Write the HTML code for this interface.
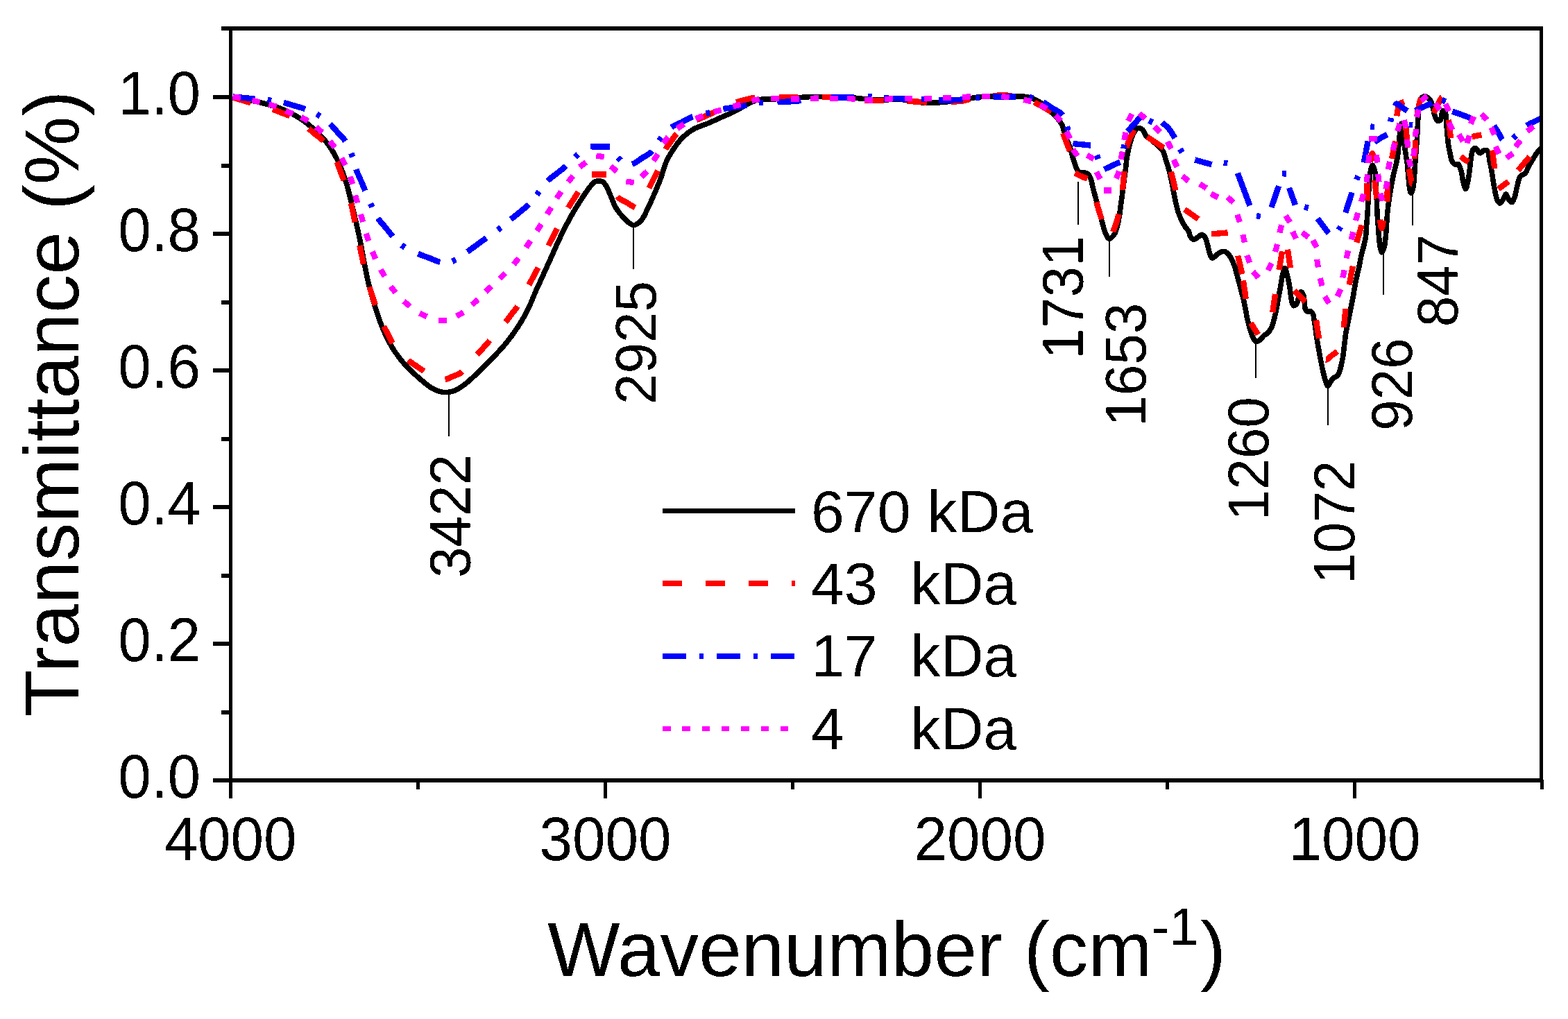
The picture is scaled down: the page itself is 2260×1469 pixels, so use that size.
<!DOCTYPE html>
<html lang="en"><head><meta charset="utf-8"><title>FTIR spectra</title>
<style>
html,body{margin:0;padding:0;background:#fff}
body{width:2260px;height:1469px;overflow:hidden}
svg{display:block}
</style></head><body>
<svg width="2260" height="1469" viewBox="0 0 2260 1469">
<defs><filter id="bw" x="-5%" y="-5%" width="110%" height="110%" color-interpolation-filters="sRGB"><feComponentTransfer><feFuncA type="discrete" tableValues="0 1"/></feComponentTransfer></filter></defs>
<rect width="2260" height="1469" fill="#fff"/>
<g fill="none" stroke-linejoin="round" shape-rendering="crispEdges">
<path d="M335.5,140.0C340.3,140.8 344.3,141.4 350.0,142.5C358.2,144.1 370.4,146.5 380.0,149.0C389.0,151.4 397.8,153.7 406.0,157.0C413.8,160.1 421.4,164.1 428.0,168.0C433.9,171.5 438.3,174.4 444.0,179.0C451.4,185.0 461.2,193.9 468.0,202.0C474.4,209.6 479.2,217.0 484.0,226.0C489.4,236.1 494.3,248.9 498.0,260.0C501.4,270.2 503.4,279.7 506.0,290.0C508.7,301.0 511.6,313.2 514.0,324.0C516.2,333.8 518.1,342.3 520.0,352.0C522.1,362.3 523.9,373.7 526.0,384.0C527.9,393.7 529.7,402.7 532.0,412.0C534.3,421.4 537.0,430.4 540.0,440.0C543.3,450.4 546.7,461.6 551.0,472.0C555.3,482.3 560.3,492.8 566.0,502.0C571.4,510.7 577.5,518.7 584.0,526.0C590.2,533.0 597.6,539.4 604.0,545.0C609.5,549.9 614.9,554.7 620.0,558.0C624.1,560.7 628.1,562.7 632.0,564.0C635.4,565.1 638.5,565.6 642.0,565.6C645.8,565.6 649.9,565.1 654.0,563.6C659.1,561.7 664.6,558.0 670.0,554.0C676.5,549.2 683.4,542.2 690.0,536.0C696.8,529.6 703.4,522.9 710.0,516.0C716.8,508.9 723.9,501.5 730.0,494.0C735.8,486.8 741.0,479.6 746.0,472.0C751.0,464.3 755.7,456.6 760.0,448.0C764.7,438.7 768.4,428.4 773.0,418.0C778.0,406.8 783.5,395.2 789.0,383.0C795.1,369.6 801.8,353.9 808.0,341.0C813.4,329.8 818.5,319.8 824.0,310.0C829.2,300.9 835.1,291.5 840.0,284.0C843.9,278.1 847.7,272.5 851.0,268.5C853.3,265.7 855.2,263.2 857.5,262.0C859.3,261.1 861.2,261.0 863.0,261.0C864.8,261.0 866.8,261.0 868.5,262.0C870.6,263.2 872.3,265.8 874.0,268.5C876.2,272.1 877.9,277.2 880.0,282.0C882.5,287.6 884.6,294.5 888.0,300.0C891.3,305.5 895.6,310.8 900.0,315.0C904.0,318.9 908.8,324.4 913.0,324.6C916.8,324.8 920.9,321.1 924.0,318.0C927.4,314.5 929.3,309.3 932.0,304.0C935.3,297.6 938.7,289.5 942.0,282.0C945.4,274.2 949.0,266.1 952.0,258.0C955.0,250.1 956.8,241.3 960.0,234.0C962.9,227.4 966.1,221.9 970.0,216.0C974.1,209.8 978.8,203.1 984.0,198.0C988.9,193.2 994.1,189.3 1000.0,186.0C1006.1,182.6 1013.4,180.8 1020.0,178.0C1026.7,175.2 1033.3,172.0 1040.0,169.0C1046.7,166.0 1053.8,163.1 1060.0,160.0C1065.7,157.1 1070.6,153.7 1076.0,151.0C1081.3,148.4 1086.1,145.4 1092.0,144.0C1098.6,142.5 1106.4,143.4 1114.0,143.0C1122.3,142.6 1131.0,142.0 1140.0,141.5C1149.6,140.9 1160.0,139.8 1170.0,139.6C1180.0,139.4 1190.0,139.8 1200.0,140.0C1210.0,140.2 1220.0,140.3 1230.0,141.0C1240.0,141.7 1249.3,143.5 1260.0,144.0C1272.4,144.6 1287.7,142.8 1300.0,143.6C1310.7,144.3 1321.0,147.3 1330.0,148.0C1337.3,148.5 1342.7,148.4 1350.0,148.0C1359.0,147.6 1370.0,146.3 1380.0,145.0C1390.0,143.7 1400.0,141.0 1410.0,140.0C1420.0,139.0 1430.4,139.2 1440.0,139.0C1449.0,138.9 1458.7,138.8 1466.0,139.0C1471.4,139.1 1475.5,138.8 1480.0,139.7C1484.6,140.6 1489.1,142.2 1493.3,144.2C1497.5,146.3 1501.3,149.2 1505.0,152.0C1508.7,154.8 1511.8,157.3 1515.4,161.0C1520.2,165.9 1527.6,174.5 1530.4,179.6C1532.1,182.6 1532.1,184.5 1533.1,187.5C1534.4,191.4 1535.9,196.4 1537.5,200.8C1539.1,205.2 1541.3,209.5 1542.8,214.0C1544.3,218.4 1545.1,222.9 1546.4,227.3C1547.7,231.8 1549.1,236.9 1550.8,240.6C1552.1,243.4 1553.2,246.4 1555.2,247.7C1557.1,248.9 1560.1,248.0 1562.3,248.6C1564.5,249.2 1566.9,249.8 1568.5,251.2C1570.2,252.7 1571.0,254.8 1572.0,257.4C1573.4,261.0 1574.2,266.5 1575.4,271.0C1576.5,275.4 1577.7,279.8 1578.9,284.2C1580.1,288.6 1581.3,293.1 1582.5,297.5C1583.7,301.9 1584.8,306.4 1586.0,310.8C1587.2,315.2 1588.4,319.8 1589.6,324.1C1590.7,328.1 1591.8,332.3 1593.1,335.6C1594.2,338.3 1595.4,341.2 1596.6,342.7C1597.3,343.6 1598.0,344.3 1598.8,344.4C1599.7,344.5 1600.8,343.6 1601.9,342.7C1603.6,341.2 1605.9,338.4 1607.3,335.6C1609.0,332.4 1609.8,328.1 1610.8,324.1C1611.9,319.9 1612.8,315.2 1613.5,310.8C1614.2,306.4 1614.6,301.9 1615.2,297.5C1615.8,293.1 1616.4,288.6 1617.0,284.2C1617.6,279.8 1618.2,275.4 1618.8,271.0C1619.4,266.6 1619.9,262.1 1620.5,257.7C1621.1,253.3 1621.7,249.1 1622.3,244.4C1623.0,239.1 1623.4,232.6 1624.2,227.3C1624.9,222.6 1625.9,218.5 1626.9,214.1C1627.9,209.7 1629.0,204.9 1630.4,200.8C1631.7,197.0 1632.9,193.0 1634.9,190.2C1636.6,187.8 1638.9,184.7 1641.1,184.4C1643.1,184.1 1645.6,185.9 1647.3,187.5C1649.3,189.4 1649.6,193.0 1651.7,195.5C1654.1,198.4 1658.3,200.8 1661.4,203.5C1664.5,206.1 1667.7,208.8 1670.3,211.4C1672.6,213.8 1674.9,215.6 1676.5,218.5C1678.4,221.9 1679.2,226.9 1680.5,231.0C1681.8,235.0 1683.1,238.9 1684.2,242.7C1685.2,246.3 1686.0,249.6 1686.9,253.3C1687.9,257.4 1688.7,262.1 1689.6,266.5C1690.5,270.9 1691.3,275.4 1692.2,279.8C1693.1,284.2 1693.9,288.7 1694.9,293.1C1695.9,297.5 1697.0,302.3 1698.4,306.4C1699.7,310.2 1701.2,313.6 1702.8,317.0C1704.4,320.3 1706.2,323.8 1708.1,326.7C1709.8,329.3 1712.2,331.3 1713.5,333.8C1714.7,336.1 1714.5,338.9 1715.7,340.9C1716.9,342.7 1718.7,345.1 1720.5,345.3C1722.4,345.5 1724.7,343.0 1726.7,341.8C1728.6,340.6 1730.3,338.1 1732.0,338.2C1733.6,338.3 1735.3,340.2 1736.5,341.8C1738.0,343.8 1738.7,346.8 1739.6,349.6C1740.6,352.8 1741.3,356.8 1742.2,360.2C1743.1,363.3 1743.8,366.9 1744.9,369.0C1745.7,370.4 1746.4,372.0 1747.5,372.1C1748.7,372.3 1750.4,370.2 1751.9,369.0C1753.6,367.7 1755.3,365.7 1757.3,364.6C1759.2,363.5 1761.5,362.3 1763.5,362.4C1765.3,362.4 1767.2,363.3 1768.8,364.6C1770.8,366.2 1772.5,369.1 1774.1,371.7C1775.8,374.6 1777.2,378.0 1778.5,381.4C1779.9,385.0 1780.9,388.9 1782.0,392.9C1783.2,397.2 1784.4,401.9 1785.6,406.2C1786.7,410.4 1787.7,414.4 1788.8,418.5C1789.9,422.7 1791.0,426.5 1792.1,431.0C1793.4,436.4 1794.6,443.2 1795.7,448.7C1796.6,453.4 1797.3,457.5 1798.3,461.9C1799.3,466.3 1800.6,471.1 1801.9,475.2C1803.0,478.7 1804.1,482.2 1805.4,485.0C1806.5,487.4 1807.6,490.0 1808.9,491.2C1809.7,492.0 1810.6,492.5 1811.6,492.5C1813.1,492.4 1815.3,490.7 1816.9,489.4C1818.6,488.0 1819.6,485.6 1821.3,484.1C1822.9,482.7 1825.0,482.1 1826.6,480.5C1828.5,478.7 1830.5,476.2 1831.9,473.5C1833.5,470.6 1834.5,467.1 1835.5,463.7C1836.5,460.3 1837.3,456.8 1838.1,453.1C1839.0,448.9 1839.9,444.4 1840.8,439.8C1841.7,435.0 1842.6,429.7 1843.5,424.8C1844.4,420.0 1845.3,415.3 1846.1,410.6C1846.9,406.1 1847.4,401.5 1848.4,397.3C1849.3,393.4 1850.7,386.3 1851.9,386.3C1853.1,386.3 1854.4,393.4 1855.5,397.3C1856.7,401.7 1857.7,406.8 1858.5,411.5C1859.3,416.0 1859.7,420.6 1860.3,424.8C1860.9,428.5 1861.1,432.5 1862.0,435.4C1862.7,437.5 1863.5,440.3 1864.7,440.7C1865.7,441.0 1867.2,439.9 1868.2,438.9C1869.5,437.6 1870.2,435.0 1870.9,432.7C1871.7,430.1 1871.7,426.0 1872.7,423.9C1873.4,422.5 1874.4,420.8 1875.3,420.8C1876.3,420.8 1877.6,423.0 1878.4,424.8C1879.5,427.4 1879.7,431.9 1880.2,435.4C1880.7,438.9 1880.4,443.6 1881.5,446.0C1882.2,447.5 1883.0,448.6 1884.2,449.1C1885.6,449.7 1888.1,448.4 1889.5,449.1C1890.9,449.8 1891.9,451.5 1892.6,453.1C1893.5,455.0 1893.4,457.6 1893.9,460.2C1894.5,463.4 1895.1,467.1 1895.7,470.8C1896.3,475.0 1896.7,479.7 1897.4,484.1C1898.0,488.5 1898.9,492.9 1899.6,497.3C1900.4,501.7 1901.1,506.2 1901.9,510.6C1902.7,515.0 1903.7,519.9 1904.5,523.9C1905.2,527.2 1905.6,529.7 1906.4,533.0C1907.3,537.0 1908.4,542.3 1909.7,546.4C1910.9,550.0 1912.2,556.2 1913.7,556.4C1914.9,556.5 1916.3,552.3 1917.7,550.4C1919.0,548.5 1920.0,546.5 1921.7,545.0C1923.5,543.4 1926.8,542.9 1928.4,541.0C1930.1,539.0 1930.5,536.2 1931.5,533.0C1932.9,528.2 1934.5,521.0 1935.5,515.0C1936.5,509.1 1937.0,503.2 1937.7,497.3C1938.4,491.4 1939.0,485.1 1939.9,479.6C1940.7,474.9 1941.7,470.8 1942.6,466.4C1943.5,462.0 1944.3,457.5 1945.2,453.1C1946.1,448.7 1947.0,444.2 1947.9,439.8C1948.8,435.4 1949.7,430.9 1950.5,426.5C1951.3,422.1 1951.9,417.7 1952.7,413.3C1953.5,408.9 1954.3,404.6 1955.3,400.0C1956.3,395.1 1957.7,390.2 1958.8,385.0C1960.0,379.4 1961.0,372.7 1962.3,367.3C1963.4,362.6 1964.8,358.5 1965.8,354.1C1966.8,349.7 1967.8,345.6 1968.5,340.8C1969.3,335.3 1969.4,329.0 1969.8,323.1C1970.3,317.2 1970.8,311.3 1971.2,305.4C1971.6,299.5 1971.7,294.0 1972.0,287.7C1972.4,280.6 1973.0,271.7 1973.5,265.0C1973.9,259.6 1973.8,255.1 1974.7,250.5C1975.5,246.2 1977.1,238.2 1978.4,238.2C1979.7,238.2 1981.5,246.4 1982.3,250.5C1983.0,254.4 1982.8,258.0 1983.0,262.0C1983.2,266.2 1983.4,270.7 1983.6,275.0C1983.8,279.3 1984.1,283.1 1984.3,287.7C1984.5,293.1 1984.6,299.5 1984.9,305.4C1985.2,311.3 1985.8,317.2 1986.2,323.1C1986.6,329.0 1987.0,335.1 1987.5,340.8C1988.0,346.2 1988.3,352.5 1989.3,356.7C1990.0,359.6 1991.0,363.8 1991.9,363.8C1992.9,363.8 1994.2,359.6 1995.0,356.7C1996.2,352.5 1996.7,346.3 1997.3,340.8C1997.9,335.1 1998.2,329.0 1998.6,323.1C1999.0,317.2 1999.3,311.3 1999.9,305.4C2000.5,299.5 2001.2,293.9 2002.1,287.7C2003.1,280.8 2004.5,272.6 2005.7,266.0C2006.7,260.4 2007.7,255.4 2008.8,250.5C2009.8,246.2 2011.0,242.3 2011.9,238.2C2012.8,234.1 2013.7,229.9 2014.3,225.8C2014.9,221.7 2015.2,217.5 2015.6,213.4C2016.0,209.3 2016.4,205.1 2016.8,201.0C2017.2,196.9 2017.6,192.6 2018.1,188.6C2018.6,184.9 2019.3,178.1 2019.9,178.1C2020.5,178.1 2021.3,184.9 2021.8,188.6C2022.3,192.6 2022.5,196.9 2023.0,201.0C2023.5,205.1 2024.3,209.3 2024.9,213.4C2025.5,217.5 2026.1,221.7 2026.7,225.8C2027.3,229.9 2028.1,234.1 2028.6,238.2C2029.1,242.3 2029.2,246.6 2029.5,250.5C2029.8,254.1 2030.2,257.6 2030.5,261.0C2030.8,264.1 2030.9,267.1 2031.5,270.0C2032.0,272.9 2032.9,278.4 2033.8,278.5C2034.6,278.6 2035.8,274.7 2036.5,272.0C2037.6,267.7 2037.9,260.9 2038.4,255.0C2039.0,248.6 2039.2,241.5 2039.7,235.0C2040.1,228.9 2040.6,223.2 2041.1,217.3C2041.5,211.4 2042.0,205.5 2042.4,199.6C2042.8,193.7 2043.0,187.8 2043.3,181.9C2043.6,176.0 2043.8,169.7 2044.2,164.2C2044.6,159.5 2044.8,154.8 2045.5,151.0C2046.1,148.0 2046.4,145.1 2047.7,143.0C2048.8,141.2 2050.4,139.4 2052.1,139.0C2053.7,138.6 2055.8,139.4 2057.4,140.4C2059.4,141.6 2061.4,144.1 2062.7,146.5C2064.1,149.1 2064.5,152.2 2065.4,155.4C2066.4,159.0 2066.9,163.6 2068.1,166.9C2069.1,169.6 2070.0,173.2 2071.6,174.0C2072.8,174.6 2074.9,174.1 2076.0,173.1C2077.5,171.6 2077.5,166.6 2078.2,164.2C2078.7,162.5 2078.8,160.1 2079.6,159.8C2080.4,159.5 2082.3,161.1 2083.1,162.5C2084.4,164.7 2084.0,169.1 2084.4,173.1C2084.9,178.2 2085.3,184.9 2085.8,190.8C2086.3,196.7 2086.7,203.0 2087.5,208.5C2088.2,213.3 2089.3,217.6 2090.2,221.8C2091.0,225.5 2091.5,229.7 2092.8,232.4C2093.8,234.3 2094.9,236.1 2096.4,236.8C2097.9,237.5 2100.3,235.9 2101.7,236.8C2103.4,237.9 2104.3,241.4 2105.2,243.9C2106.1,246.5 2106.6,249.2 2107.2,252.0C2107.8,254.9 2107.8,257.9 2108.6,261.0C2109.5,264.6 2111.2,272.4 2112.4,272.4C2113.7,272.4 2115.1,263.9 2116.0,260.0C2116.8,256.5 2117.1,253.7 2117.6,250.0C2118.2,245.5 2118.8,239.8 2119.4,235.0C2120.0,230.5 2120.3,225.5 2121.2,221.8C2121.9,219.0 2122.4,215.9 2123.8,214.7C2124.7,213.9 2126.2,213.4 2127.3,213.8C2128.7,214.3 2129.7,217.9 2130.9,219.1C2131.8,220.0 2132.5,220.9 2133.5,220.9C2134.8,220.9 2136.4,218.0 2138.0,217.3C2139.4,216.7 2141.2,216.0 2142.4,216.5C2143.6,217.0 2144.3,218.4 2145.0,220.0C2146.1,222.5 2146.1,226.9 2146.8,230.6C2147.6,234.8 2148.6,238.7 2149.5,243.9C2150.8,251.2 2152.3,262.5 2153.8,270.4C2155.1,276.8 2156.0,283.7 2157.8,287.7C2158.9,290.2 2160.3,293.1 2161.8,293.1C2163.4,293.1 2165.7,288.7 2167.2,286.4C2168.6,284.2 2169.3,279.7 2170.5,279.7C2171.8,279.7 2172.9,285.6 2174.5,287.7C2175.9,289.4 2177.8,292.0 2179.2,291.7C2180.8,291.4 2182.0,287.0 2183.2,283.7C2184.9,279.1 2185.7,271.6 2187.2,266.4C2188.4,262.0 2189.0,257.2 2191.2,254.3C2193.0,251.9 2196.5,251.7 2198.5,249.5C2200.7,247.0 2201.7,242.7 2203.5,239.5C2205.2,236.4 2207.0,233.6 2208.8,230.6C2210.6,227.7 2212.2,224.4 2214.1,221.8C2215.8,219.5 2218.1,217.0 2219.4,215.6C2220.1,214.9 2220.5,214.5 2221.0,214.0" stroke="#000" stroke-width="7.6"/>
<g stroke="#f00" stroke-width="8.4"><path d="M335.5,140.5C341.7,142.3 347.3,144.0 354.0,146.0C361.9,148.3 372.6,151.3 380.0,153.5C385.5,155.2 389.9,156.4 394.4,158.0C398.4,159.4 401.9,161.0 405.7,162.5" stroke-dasharray="27.12 32.93" stroke-dashoffset="0.00"/>
<path d="M405.7,162.5C409.5,164.0 413.2,165.1 417.0,167.0C421.3,169.1 425.7,172.2 430.0,175.0C434.4,177.9 438.8,180.8 443.0,184.0C447.2,187.2 451.0,190.7 455.0,194.0" stroke-dasharray="26.59 32.29" stroke-dashoffset="13.30"/>
<path d="M455.0,194.0C459.0,197.3 463.4,200.0 467.0,204.0C470.8,208.3 473.9,213.9 477.0,219.0C480.1,223.9 483.3,229.1 485.6,234.0C487.7,238.4 488.9,242.7 490.6,247.0" stroke-dasharray="29.32 35.61" stroke-dashoffset="14.66"/>
<path d="M490.6,247.0C492.3,251.3 494.0,255.4 495.6,260.0C497.4,265.3 499.2,271.4 501.0,277.0C502.7,282.4 504.7,287.9 506.0,293.0C507.2,297.7 507.9,302.0 508.8,306.5" stroke-dasharray="28.15 34.18" stroke-dashoffset="14.07"/>
<path d="M508.8,306.5C509.7,311.0 510.6,315.2 511.6,320.0C512.7,325.3 513.9,331.3 515.0,337.0C516.1,342.7 517.3,348.7 518.4,354.0C519.4,358.8 520.3,363.0 521.2,367.5" stroke-dasharray="28.11 34.14" stroke-dashoffset="14.06"/>
<path d="M521.2,367.5C522.1,372.0 522.9,376.3 524.0,381.0C525.2,386.1 526.6,391.6 528.0,397.0C529.4,402.5 530.9,408.4 532.4,413.6C533.8,418.3 535.3,422.4 536.7,426.8" stroke-dasharray="27.70 33.64" stroke-dashoffset="13.85"/>
<path d="M536.7,426.8C538.1,431.2 539.4,435.4 541.0,440.0C542.8,445.1 544.9,450.9 547.0,456.0C548.9,460.8 550.9,465.5 553.0,470.0C555.0,474.3 557.3,478.3 559.5,482.5" stroke-dasharray="27.23 33.07" stroke-dashoffset="13.62"/>
<path d="M559.5,482.5C561.7,486.7 563.3,490.8 566.0,495.0C569.0,499.7 573.1,504.8 577.0,509.0C580.8,513.1 585.0,516.8 589.0,520.0C592.5,522.8 596.0,524.8 599.5,527.2" stroke-dasharray="27.53 33.43" stroke-dashoffset="13.76"/>
<path d="M599.5,527.2C603.0,529.6 606.5,532.0 610.0,534.4C613.6,536.9 617.3,539.7 621.0,542.0C624.6,544.2 628.5,547.2 632.0,548.0C634.8,548.6 637.7,547.9 640.0,547.5C641.9,547.2 643.1,546.7 645.0,546.0C647.7,545.0 651.3,543.2 654.5,541.8" stroke-dasharray="28.17 34.21" stroke-dashoffset="14.09"/>
<path d="M654.5,541.8C657.7,540.4 660.9,539.8 664.0,537.6C668.1,534.7 672.0,528.9 676.0,524.5C680.0,520.0 684.3,515.1 688.0,511.0C691.1,507.6 693.7,504.7 696.5,501.5" stroke-dasharray="26.66 32.37" stroke-dashoffset="13.33"/>
<path d="M696.5,501.5C699.3,498.3 701.9,495.5 705.0,492.0C708.7,487.8 713.0,482.7 717.0,478.0C721.0,473.3 725.4,468.4 729.0,464.0C732.1,460.2 734.5,456.7 737.3,453.0" stroke-dasharray="28.64 34.77" stroke-dashoffset="14.32"/>
<path d="M737.3,453.0C740.1,449.3 743.0,446.1 745.6,442.0C748.6,437.3 751.1,431.4 754.0,426.0C756.9,420.6 760.3,414.6 763.0,409.6C765.2,405.5 767.0,402.1 769.0,398.3" stroke-dasharray="28.62 34.75" stroke-dashoffset="14.31"/>
<path d="M769.0,398.3C771.0,394.5 772.9,391.2 775.0,387.0C777.5,381.9 780.3,375.7 783.0,370.0C785.7,364.3 788.5,358.1 791.0,353.0C793.0,348.9 794.9,345.5 796.8,341.8" stroke-dasharray="28.44 34.54" stroke-dashoffset="14.22"/>
<path d="M796.8,341.8C798.7,338.1 800.5,334.7 802.6,330.6C805.2,325.6 808.1,319.4 811.0,314.0C813.8,308.7 816.8,303.2 819.6,298.6C821.9,294.7 824.1,291.6 826.3,288.1" stroke-dasharray="27.69 33.62" stroke-dashoffset="13.85"/>
<path d="M826.3,288.1C828.5,284.6 830.5,281.4 833.0,277.6C836.0,273.1 840.2,267.1 843.0,263.0C845.0,260.1 846.6,257.6 848.0,255.5C849.0,253.9 849.5,252.0 850.5,251.4C851.2,251.0 851.9,251.4 853.0,251.4" stroke-dasharray="27.16 32.98" stroke-dashoffset="13.58"/>
<path d="M853.0,251.4C855.3,251.4 860.0,251.4 863.5,251.4C867.0,251.4 871.7,251.4 874.0,251.4" stroke-dasharray="21.00 25.50" stroke-dashoffset="0.00"/>
<path d="M874.0,251.4C875.1,251.4 875.8,251.0 876.5,251.4C877.6,252.0 878.2,254.1 879.0,256.0C880.2,258.9 880.9,263.4 882.5,267.5C884.4,272.6 886.4,279.9 890.0,284.0C893.3,287.7 898.3,289.0 902.5,291.5" stroke-dasharray="30.79 37.38" stroke-dashoffset="30.79"/>
<path d="M902.5,291.5C906.7,294.0 911.9,297.7 915.0,299.0C916.6,299.7 917.7,300.5 919.0,300.0C921.1,299.2 922.8,294.7 925.0,291.0C928.2,285.5 932.9,276.0 936.0,270.0C938.3,265.5 940.0,262.0 942.0,258.0" stroke-dasharray="30.22 36.70" stroke-dashoffset="15.11"/>
<path d="M942.0,258.0C944.0,254.0 946.1,250.4 948.0,246.0C950.2,240.9 951.9,234.5 954.0,229.0C955.9,223.8 957.6,218.3 960.0,214.0C962.1,210.2 964.7,207.5 967.0,204.2" stroke-dasharray="26.95 32.73" stroke-dashoffset="13.48"/>
<path d="M967.0,204.2C969.3,200.9 971.2,197.6 974.0,194.4C977.1,190.8 980.9,187.1 985.0,184.0C989.5,180.6 994.5,177.8 1000.0,175.0C1006.1,171.8 1013.0,169.1 1020.0,166.0C1027.9,162.5 1037.4,158.4 1045.0,155.0C1051.5,152.1 1057.5,149.0 1063.0,147.0C1067.3,145.4 1071.0,144.5 1075.0,143.5" stroke-dasharray="28.49 34.60" stroke-dashoffset="14.25"/>
<path d="M1075.0,143.5C1079.0,142.5 1082.3,141.5 1087.0,141.0C1093.4,140.3 1103.4,140.6 1110.0,140.5C1114.9,140.4 1118.6,140.5 1123.0,140.5C1127.5,140.5 1132.0,140.5 1136.5,140.5" stroke-dasharray="27.90 33.88" stroke-dashoffset="13.95"/>
<path d="M1136.5,140.5C1141.0,140.5 1145.1,140.6 1150.0,140.5C1156.0,140.4 1163.8,140.1 1170.0,140.0C1175.4,139.9 1180.1,140.0 1185.0,140.0C1189.7,140.0 1194.3,139.9 1199.0,140.0" stroke-dasharray="28.23 34.28" stroke-dashoffset="14.11"/>
<path d="M1199.0,140.0C1203.7,140.1 1208.1,140.2 1213.0,140.5C1218.4,140.8 1224.4,141.3 1230.0,142.0C1235.4,142.7 1240.8,144.0 1246.0,144.5C1250.8,145.0 1255.4,144.9 1260.0,145.0" stroke-dasharray="27.68 33.61" stroke-dashoffset="13.84"/>
<path d="M1260.0,145.0C1264.6,145.1 1268.9,145.0 1273.6,145.0C1278.8,145.0 1284.4,144.8 1290.0,145.0C1295.9,145.2 1302.4,145.7 1308.0,146.0C1312.8,146.2 1317.0,146.3 1321.5,146.5" stroke-dasharray="27.79 33.75" stroke-dashoffset="13.90"/>
<path d="M1321.5,146.5C1326.0,146.8 1330.4,147.3 1335.0,147.5C1339.9,147.8 1344.6,148.1 1350.0,148.0C1356.4,147.9 1364.8,146.8 1371.0,146.5C1376.0,146.2 1380.0,146.6 1384.5,146.0" stroke-dasharray="28.51 34.62" stroke-dashoffset="14.25"/>
<path d="M1384.5,146.0C1389.0,145.4 1393.2,144.0 1398.0,143.0C1403.3,141.9 1409.3,140.8 1415.0,140.0C1420.7,139.2 1426.7,138.4 1432.0,138.0C1436.6,137.6 1440.7,137.5 1445.0,137.5" stroke-dasharray="27.65 33.58" stroke-dashoffset="13.83"/>
<path d="M1445.0,137.5C1449.3,137.5 1453.8,137.7 1458.0,138.0C1462.1,138.2 1466.2,138.6 1470.0,139.0C1473.5,139.4 1476.6,139.3 1480.0,140.5C1484.0,142.0 1488.1,145.7 1492.0,148.0C1495.7,150.2 1499.3,151.8 1503.0,154.0" stroke-dasharray="27.96 33.95" stroke-dashoffset="13.98"/>
<path d="M1503.0,154.0C1507.1,156.4 1511.7,158.7 1515.4,162.0C1519.4,165.6 1523.3,170.3 1526.0,175.0C1528.6,179.5 1530.3,186.9 1531.3,189.7C1531.7,190.8 1531.8,190.9 1532.2,192.0" stroke-dasharray="29.02 35.24" stroke-dashoffset="14.51"/>
<path d="M1532.2,192.0C1533.2,194.6 1535.4,200.7 1537.0,205.0C1538.6,209.2 1540.9,215.1 1541.9,217.6" stroke-dasharray="27.38 33.24" stroke-dashoffset="0.00"/>
<path d="M1541.9,217.6C1542.3,218.7 1542.5,218.8 1542.8,219.9C1543.5,222.4 1544.8,227.7 1545.5,232.0C1546.3,237.0 1545.8,246.1 1547.3,248.3C1547.9,249.2 1548.5,249.0 1549.5,249.5" stroke-dasharray="27.95 33.94" stroke-dashoffset="27.95"/>
<path d="M1549.5,249.5C1551.4,250.5 1555.1,252.6 1558.0,254.0C1561.0,255.4 1565.3,256.9 1567.4,257.7" stroke-dasharray="19.72 23.95" stroke-dashoffset="0.00"/>
<path d="M1567.4,257.7C1568.4,258.1 1569.1,257.9 1569.7,258.6C1570.9,260.1 1570.4,264.3 1571.5,268.0C1573.1,273.7 1578.4,285.4 1579.6,288.9C1580.0,290.1 1580.0,290.2 1580.3,291.3" stroke-dasharray="30.55 37.09" stroke-dashoffset="30.55"/>
<path d="M1580.3,291.3C1581.0,293.9 1582.7,299.8 1584.0,304.0C1585.2,308.1 1587.0,313.6 1587.8,316.1" stroke-dasharray="25.91 31.46" stroke-dashoffset="0.00"/>
<path d="M1587.8,316.1C1588.1,317.2 1588.1,317.4 1588.5,318.5C1589.5,321.0 1592.2,327.2 1594.0,331.0C1595.5,334.3 1596.7,339.5 1598.5,340.0C1599.9,340.4 1602.4,337.7 1603.3,336.5C1603.9,335.8 1603.8,335.3 1604.2,334.2" stroke-dasharray="28.89 35.08" stroke-dashoffset="28.89"/>
<path d="M1604.2,334.2C1605.1,331.6 1607.6,325.4 1609.0,321.0C1610.4,316.8 1611.9,311.1 1612.6,308.6" stroke-dasharray="26.96 32.74" stroke-dashoffset="0.00"/>
<path d="M1612.6,308.6C1612.9,307.5 1613.0,307.3 1613.3,306.2C1613.9,303.5 1614.8,296.8 1615.5,292.0C1616.2,287.0 1617.3,279.5 1617.7,276.6C1617.8,275.4 1617.8,275.3 1617.9,274.1" stroke-dasharray="28.77 34.93" stroke-dashoffset="28.77"/>
<path d="M1617.9,274.1C1618.2,271.3 1618.9,264.6 1619.3,260.0C1619.7,255.6 1620.3,249.7 1620.5,247.1" stroke-dasharray="27.13 32.94" stroke-dashoffset="0.00"/>
<path d="M1620.5,247.1C1620.6,245.9 1620.6,245.8 1620.7,244.6C1621.0,241.8 1621.7,234.9 1622.0,230.0C1622.3,225.2 1622.0,218.3 1622.6,215.6C1622.8,214.4 1623.0,214.3 1623.4,213.2" stroke-dasharray="28.12 34.14" stroke-dashoffset="28.12"/>
<path d="M1623.4,213.2C1624.4,210.5 1626.5,203.4 1628.5,199.0C1630.4,194.9 1633.6,189.8 1634.9,187.5" stroke-dasharray="28.26 34.32" stroke-dashoffset="0.00"/>
<path d="M1634.9,187.5C1635.5,186.5 1635.5,186.1 1636.1,185.3C1637.1,184.0 1639.3,181.0 1641.0,181.0C1643.0,181.0 1645.8,184.6 1647.5,187.0C1649.3,189.5 1650.1,194.3 1651.4,195.9C1652.1,196.7 1652.5,196.7 1653.5,197.3" stroke-dasharray="25.16 30.55" stroke-dashoffset="25.16"/>
<path d="M1653.5,197.3C1655.8,198.9 1661.4,202.6 1665.4,205.2C1669.4,207.9 1675.0,211.6 1677.3,213.2" stroke-dasharray="28.62 34.76" stroke-dashoffset="0.00"/>
<path d="M1677.3,213.2C1678.3,213.9 1678.8,213.7 1679.4,214.6C1680.8,216.7 1681.3,223.3 1682.5,228.0C1683.9,233.4 1686.4,242.0 1687.2,245.1C1687.5,246.2 1687.5,246.4 1687.8,247.5" stroke-dasharray="30.11 36.56" stroke-dashoffset="30.11"/>
<path d="M1687.8,247.5C1688.5,250.2 1690.0,256.5 1691.1,261.0C1692.2,265.5 1693.7,271.8 1694.4,274.5" stroke-dasharray="27.79 33.75" stroke-dashoffset="0.00"/>
<path d="M1694.4,274.5C1694.7,275.6 1694.7,275.8 1695.0,276.9C1695.7,279.4 1697.3,285.1 1699.0,289.0C1700.7,293.0 1703.5,298.5 1705.2,300.5C1706.0,301.3 1706.4,301.2 1707.3,301.9" stroke-dasharray="25.40 30.84" stroke-dashoffset="25.40"/>
<path d="M1707.3,301.9C1709.4,303.3 1713.9,306.5 1717.2,308.8C1720.5,311.1 1725.1,314.4 1727.2,315.9" stroke-dasharray="24.33 29.55" stroke-dashoffset="0.00"/>
<path d="M1727.2,315.9C1728.1,316.6 1728.4,316.5 1729.2,317.3C1731.1,319.2 1734.5,324.5 1737.0,328.0C1739.3,331.3 1741.8,336.7 1743.7,337.6C1744.6,338.0 1745.1,337.5 1746.2,337.4" stroke-dasharray="24.75 30.06" stroke-dashoffset="24.75"/>
<path d="M1746.2,337.4C1748.7,337.2 1754.0,336.7 1757.9,336.4C1761.8,336.1 1767.1,335.6 1769.6,335.4" stroke-dasharray="23.49 28.52" stroke-dashoffset="0.00"/>
<path d="M1769.6,335.4C1770.7,335.3 1771.3,334.7 1772.1,335.2C1773.9,336.3 1775.3,342.6 1777.0,347.0C1779.1,352.6 1782.7,362.8 1783.6,366.2C1784.0,367.3 1783.9,367.5 1784.2,368.6" stroke-dasharray="31.51 38.27" stroke-dashoffset="31.51"/>
<path d="M1784.2,368.6C1784.8,371.3 1786.3,377.5 1787.3,381.9C1788.3,386.3 1789.8,392.5 1790.4,395.1" stroke-dasharray="27.22 33.05" stroke-dashoffset="0.00"/>
<path d="M1790.4,395.1C1790.7,396.2 1790.8,396.6 1791.0,397.5C1791.2,398.8 1791.2,400.7 1791.4,401.9C1791.5,402.9 1791.6,403.2 1791.8,404.4" stroke-dasharray="7.76 9.42" stroke-dashoffset="7.76"/>
<path d="M1791.8,404.4C1792.2,407.1 1793.2,413.3 1793.9,417.7C1794.5,422.1 1795.3,428.3 1795.7,431.0" stroke-dasharray="26.89 32.65" stroke-dashoffset="0.00"/>
<path d="M1795.7,431.0C1795.9,432.2 1795.8,432.3 1796.0,433.5C1796.5,436.4 1798.1,443.9 1799.0,449.0C1799.9,453.9 1800.4,460.8 1801.4,463.4C1801.8,464.5 1802.1,464.6 1802.7,465.5" stroke-dasharray="29.16 35.41" stroke-dashoffset="29.16"/>
<path d="M1802.7,465.5C1803.9,467.4 1806.3,471.2 1808.1,474.0C1809.9,476.8 1812.2,480.4 1813.4,482.3" stroke-dasharray="19.92 24.19" stroke-dashoffset="0.00"/>
<path d="M1813.4,482.3C1814.0,483.2 1814.1,484.4 1814.7,484.4C1816.5,484.3 1820.7,472.4 1824.0,467.0C1827.1,461.9 1832.7,455.7 1833.8,452.9C1834.3,451.8 1834.0,451.6 1834.2,450.4" stroke-dasharray="34.75 42.20" stroke-dashoffset="34.75"/>
<path d="M1834.2,450.4C1834.6,447.7 1835.6,441.6 1836.2,437.2C1836.9,432.8 1837.7,426.6 1838.1,423.9" stroke-dasharray="26.79 32.53" stroke-dashoffset="0.00"/>
<path d="M1838.1,423.9C1838.3,422.7 1838.3,422.6 1838.5,421.4C1838.9,418.5 1840.0,411.1 1840.8,406.0C1841.6,401.1 1842.6,394.2 1843.1,391.4C1843.3,390.2 1843.3,390.0 1843.5,388.9" stroke-dasharray="29.17 35.41" stroke-dashoffset="29.17"/>
<path d="M1843.5,388.9C1844.0,386.2 1845.1,380.1 1845.8,375.7C1846.6,371.3 1847.6,365.1 1848.0,362.4" stroke-dasharray="26.88 32.64" stroke-dashoffset="0.00"/>
<path d="M1848.0,362.4C1848.2,361.3 1848.2,361.0 1848.4,359.9C1848.8,358.0 1849.4,354.6 1850.0,352.0C1850.6,349.5 1851.3,344.5 1852.0,344.5C1852.6,344.5 1853.4,348.8 1854.0,351.0C1854.6,353.1 1855.2,355.6 1855.5,357.2C1855.7,358.2 1855.7,358.5 1855.9,359.7" stroke-dasharray="28.20 34.25" stroke-dashoffset="28.20"/>
<path d="M1855.9,359.7C1856.3,362.4 1857.2,368.6 1857.9,373.0C1858.6,377.4 1859.5,383.6 1859.9,386.3" stroke-dasharray="26.90 32.66" stroke-dashoffset="0.00"/>
<path d="M1859.9,386.3C1860.1,387.5 1860.1,387.6 1860.3,388.8C1860.7,391.8 1861.3,400.0 1862.0,405.0C1862.6,409.4 1862.8,415.0 1863.9,417.2C1864.4,418.2 1864.8,418.2 1865.6,419.0" stroke-dasharray="27.77 33.72" stroke-dashoffset="27.77"/>
<path d="M1865.6,419.0C1867.3,420.7 1870.9,424.5 1873.5,427.2C1876.2,429.9 1879.8,433.7 1881.5,435.4" stroke-dasharray="22.84 27.74" stroke-dashoffset="0.00"/>
<path d="M1881.5,435.4C1882.3,436.2 1882.5,436.3 1883.2,437.2C1884.8,439.1 1887.4,443.5 1889.5,447.0C1891.8,450.8 1895.7,456.5 1896.6,459.0C1897.0,460.1 1896.8,460.3 1897.0,461.5" stroke-dasharray="25.24 30.65" stroke-dashoffset="25.24"/>
<path d="M1897.0,461.5C1897.4,464.2 1898.3,470.4 1899.0,474.8C1899.7,479.2 1900.6,485.4 1901.0,488.1" stroke-dasharray="26.90 32.66" stroke-dashoffset="0.00"/>
<path d="M1901.0,488.1C1901.2,489.3 1901.1,489.4 1901.4,490.6C1901.9,493.4 1903.9,500.6 1905.0,505.0C1905.9,508.8 1906.2,513.0 1907.5,515.5C1908.4,517.1 1909.3,518.9 1910.7,519.0" stroke-dasharray="27.28 33.13" stroke-dashoffset="27.28"/>
<path d="M1910.7,519.0C1912.8,519.2 1916.3,514.9 1919.1,512.8C1921.9,510.7 1925.7,508.0 1927.5,506.6" stroke-dasharray="21.03 25.54" stroke-dashoffset="0.00"/>
<path d="M1927.5,506.6C1928.4,505.9 1928.9,506.0 1929.5,505.1C1931.0,503.0 1931.9,496.7 1933.0,492.0C1934.3,486.6 1936.1,477.8 1936.6,474.6C1936.7,473.4 1936.7,473.3 1936.8,472.1" stroke-dasharray="30.00 36.42" stroke-dashoffset="30.00"/>
<path d="M1936.8,472.1C1937.1,469.4 1937.7,463.1 1938.1,458.6C1938.6,454.1 1939.2,447.8 1939.5,445.1" stroke-dasharray="27.13 32.95" stroke-dashoffset="0.00"/>
<path d="M1939.5,445.1C1939.6,443.9 1939.6,443.8 1939.8,442.6C1940.1,439.8 1941.2,432.9 1942.0,428.0C1942.8,423.0 1943.9,415.9 1944.3,413.1C1944.5,411.9 1944.6,411.8 1944.8,410.6" stroke-dasharray="28.75 34.91" stroke-dashoffset="28.75"/>
<path d="M1944.8,410.6C1945.3,407.9 1946.4,401.5 1947.3,397.0C1948.1,392.5 1949.4,386.4 1949.9,383.7" stroke-dasharray="27.38 33.25" stroke-dashoffset="0.00"/>
<path d="M1949.9,383.7C1950.1,382.6 1950.2,382.4 1950.4,381.2C1950.9,378.5 1951.8,371.8 1952.5,367.0C1953.2,362.1 1953.9,354.8 1954.5,352.0C1954.7,350.8 1954.9,350.7 1955.2,349.6" stroke-dasharray="28.45 34.54" stroke-dashoffset="28.45"/>
<path d="M1955.2,349.6C1956.0,347.1 1957.7,341.2 1959.0,337.0C1960.2,332.8 1962.0,327.0 1962.7,324.4" stroke-dasharray="26.29 31.93" stroke-dashoffset="0.00"/>
<path d="M1962.7,324.4C1963.0,323.3 1963.1,323.1 1963.4,322.0C1964.2,319.1 1965.9,312.0 1967.0,307.0C1968.1,302.0 1969.9,294.9 1970.2,292.0C1970.4,290.8 1970.3,290.7 1970.3,289.5" stroke-dasharray="29.47 35.78" stroke-dashoffset="29.47"/>
<path d="M1970.3,289.5C1970.4,286.8 1970.5,280.4 1970.6,276.0C1970.7,271.8 1970.7,266.2 1970.7,263.7" stroke-dasharray="25.80 31.33" stroke-dashoffset="0.00"/>
<path d="M1970.7,263.7C1970.7,262.6 1970.7,262.3 1970.7,261.2C1970.9,258.8 1971.5,254.0 1972.0,250.0C1972.6,245.4 1973.0,239.9 1974.0,235.0C1975.0,230.2 1976.8,221.0 1978.0,221.0" stroke-dasharray="25.45 30.91" stroke-dashoffset="25.45"/>
<path d="M1978.0,221.0C1979.2,221.0 1980.4,230.5 1981.0,236.0C1981.7,242.4 1980.9,253.6 1981.1,257.2C1981.2,258.5 1981.3,258.5 1981.4,259.7" stroke-dasharray="22.86 27.76" stroke-dashoffset="11.43"/>
<path d="M1981.4,259.7C1981.7,262.4 1982.3,268.6 1982.8,273.0C1983.3,277.5 1984.0,283.7 1984.3,286.4" stroke-dasharray="26.86 32.61" stroke-dashoffset="0.00"/>
<path d="M1984.3,286.4C1984.4,287.6 1984.4,287.7 1984.6,288.9C1984.9,291.7 1985.8,298.2 1986.5,303.0C1987.2,307.9 1988.1,313.4 1989.0,318.0C1989.8,322.0 1990.7,329.0 1991.5,329.0" stroke-dasharray="25.28 30.70" stroke-dashoffset="25.28"/>
<path d="M1991.5,329.0C1992.3,329.0 1993.2,321.8 1994.0,318.0C1994.9,313.9 1995.6,309.2 1996.5,305.0C1997.4,300.9 1998.9,295.6 1999.2,293.1C1999.4,292.0 1999.3,291.8 1999.3,290.6" stroke-dasharray="22.95 27.86" stroke-dashoffset="11.47"/>
<path d="M1999.3,290.6C1999.4,287.9 1999.6,281.5 1999.7,277.0C1999.8,272.6 1999.9,266.6 2000.0,264.0" stroke-dasharray="26.61 32.31" stroke-dashoffset="0.00"/>
<path d="M2000.0,264.0C2000.0,262.8 1999.9,262.7 2000.1,261.5C2000.3,258.7 2001.6,251.9 2002.5,247.0C2003.4,241.9 2004.9,234.3 2005.5,231.3C2005.7,230.2 2005.8,230.0 2006.0,228.9" stroke-dasharray="29.35 35.64" stroke-dashoffset="29.35"/>
<path d="M2006.0,228.9C2006.5,226.3 2007.7,220.4 2008.6,216.2C2009.5,212.0 2010.8,206.1 2011.3,203.5" stroke-dasharray="25.95 31.51" stroke-dashoffset="0.00"/>
<path d="M2011.3,203.5C2011.5,202.4 2011.7,202.2 2011.8,201.1C2012.2,198.1 2012.4,190.3 2012.5,185.0C2012.6,179.8 2012.3,172.4 2012.7,169.4C2012.9,168.3 2013.0,168.2 2013.3,167.0" stroke-dasharray="30.19 36.65" stroke-dashoffset="30.19"/>
<path d="M2013.3,167.0C2014.1,163.8 2014.8,152.6 2017.5,149.5C2019.2,147.6 2022.4,147.6 2024.0,147.0" stroke-dasharray="25.22 30.62" stroke-dashoffset="0.00"/>
<path d="M2024.0,147.0C2025.0,146.6 2025.8,145.7 2026.3,146.1C2027.8,147.2 2025.5,158.9 2025.5,165.0C2025.5,170.8 2025.9,179.0 2026.2,182.1C2026.2,183.3 2026.3,183.4 2026.4,184.6" stroke-dasharray="34.01 41.29" stroke-dashoffset="34.01"/>
<path d="M2026.4,184.6C2026.7,187.4 2027.3,194.0 2027.8,198.7C2028.3,203.4 2028.9,210.0 2029.2,212.8" stroke-dasharray="28.34 34.41" stroke-dashoffset="0.00"/>
<path d="M2029.2,212.8C2029.3,214.0 2029.4,214.1 2029.4,215.3C2029.6,217.9 2029.8,223.7 2030.0,228.0C2030.2,232.3 2030.3,238.3 2030.6,240.9C2030.7,242.1 2030.8,242.3 2031.0,243.4" stroke-dasharray="25.26 30.68" stroke-dashoffset="25.26"/>
<path d="M2031.0,243.4C2031.4,245.8 2032.2,251.3 2033.0,255.0C2033.7,258.5 2034.5,264.8 2035.5,265.0" stroke-dasharray="22.20 26.96" stroke-dashoffset="0.00"/>
<path d="M2035.5,265.0C2036.1,265.1 2037.0,263.5 2037.5,262.0C2038.5,259.0 2038.1,252.1 2038.3,247.0C2038.5,241.8 2038.5,234.3 2038.6,231.3C2038.7,230.1 2038.7,230.0 2038.8,228.8" stroke-dasharray="30.48 37.02" stroke-dashoffset="30.48"/>
<path d="M2038.8,228.8C2039.0,226.2 2039.4,220.3 2039.6,215.9C2039.8,211.4 2040.1,205.0 2040.2,202.3" stroke-dasharray="26.54 32.22" stroke-dashoffset="0.00"/>
<path d="M2040.2,202.3C2040.3,201.1 2040.2,201.0 2040.3,199.8C2040.5,196.8 2041.2,189.2 2041.5,184.0C2041.8,179.1 2041.8,172.3 2042.1,169.5C2042.2,168.3 2042.3,168.2 2042.5,167.0" stroke-dasharray="29.15 35.40" stroke-dashoffset="29.15"/>
<path d="M2042.5,167.0C2043.0,164.2 2044.0,157.4 2045.0,153.0C2045.9,149.1 2046.4,144.4 2048.0,142.0" stroke-dasharray="25.68 31.19" stroke-dashoffset="0.00"/>
<path d="M2048.0,142.0C2049.1,140.4 2050.5,139.0 2052.0,139.0C2053.8,139.0 2056.3,141.7 2058.0,144.0C2060.2,147.0 2061.7,152.2 2063.0,156.0C2064.1,159.2 2064.6,165.2 2065.4,165.2C2065.8,165.3 2066.0,164.0 2066.5,163.0" stroke-dasharray="31.63 38.41" stroke-dashoffset="31.63"/>
<path d="M2066.5,163.0C2067.6,160.7 2070.1,155.7 2072.0,152.0C2074.0,148.1 2076.7,141.4 2078.5,140.0" stroke-dasharray="26.00 31.57" stroke-dashoffset="0.00"/>
<path d="M2078.5,140.0C2079.2,139.4 2079.9,139.2 2080.5,139.5C2081.7,140.2 2082.2,144.9 2083.0,148.0C2083.9,151.6 2084.7,156.2 2085.5,160.0C2086.3,163.5 2087.3,168.0 2087.7,170.2C2087.9,171.3 2087.9,171.5 2088.0,172.7" stroke-dasharray="29.95 36.37" stroke-dashoffset="29.95"/>
<path d="M2088.0,172.7C2088.3,175.4 2089.0,181.6 2089.5,186.0C2090.0,190.4 2090.8,196.5 2091.1,199.2" stroke-dasharray="26.68 32.40" stroke-dashoffset="0.00"/>
<path d="M2091.1,199.2C2091.2,200.4 2091.1,200.6 2091.4,201.7C2092.1,204.1 2095.0,209.3 2097.0,213.0C2099.0,216.7 2101.9,222.0 2103.6,223.9C2104.3,224.8 2104.7,224.8 2105.5,225.5" stroke-dasharray="25.05 30.41" stroke-dashoffset="25.05"/>
<path d="M2105.5,225.5C2106.9,226.6 2109.1,228.7 2111.0,230.0C2112.9,231.3 2115.5,232.6 2117.0,233.5" stroke-dasharray="14.06 17.07" stroke-dashoffset="0.00"/>
<path d="M2117.0,233.5C2117.9,234.0 2118.7,235.0 2119.2,234.8C2120.3,234.1 2118.9,226.5 2119.0,222.0C2119.1,217.0 2120.1,210.5 2120.0,206.0C2119.9,202.8 2118.3,198.9 2119.2,197.7C2119.6,197.1 2120.6,197.4 2121.6,197.2" stroke-dasharray="34.99 42.49" stroke-dashoffset="34.99"/>
<path d="M2121.6,197.2C2123.3,196.8 2126.2,196.2 2128.5,195.7C2130.8,195.2 2133.6,194.7 2135.3,194.3" stroke-dasharray="14.00 17.00" stroke-dashoffset="0.00"/>
<path d="M2135.3,194.3C2136.3,194.1 2136.9,193.5 2137.7,193.8C2139.3,194.3 2141.4,197.0 2143.0,199.0C2144.7,201.3 2146.2,204.4 2147.5,207.0C2148.7,209.4 2150.0,212.2 2150.5,214.0C2150.8,215.0 2150.7,215.3 2150.8,216.5" stroke-dasharray="24.18 29.36" stroke-dashoffset="24.18"/>
<path d="M2150.8,216.5C2151.1,219.2 2151.9,225.5 2152.5,230.0C2153.1,234.4 2153.9,240.4 2154.3,243.0" stroke-dasharray="26.73 32.46" stroke-dashoffset="0.00"/>
<path d="M2154.3,243.0C2154.5,244.1 2154.5,244.3 2154.6,245.5C2155.0,248.0 2155.5,253.6 2156.0,258.0C2156.5,263.0 2156.2,273.3 2157.6,273.9C2158.1,274.1 2158.7,273.1 2159.6,272.4" stroke-dasharray="27.83 33.79" stroke-dashoffset="27.83"/>
<path d="M2159.6,272.4C2161.3,271.2 2164.5,268.8 2166.9,267.0C2169.4,265.2 2172.6,262.9 2174.3,261.7" stroke-dasharray="18.18 22.08" stroke-dashoffset="0.00"/>
<path d="M2174.3,261.7C2175.2,261.1 2175.5,261.0 2176.3,260.2C2177.8,258.9 2180.3,256.2 2182.0,254.0C2183.6,251.9 2185.3,249.1 2186.4,247.6C2187.0,246.8 2187.3,246.6 2188.0,245.7" stroke-dasharray="17.46 21.20" stroke-dashoffset="17.46"/>
<path d="M2188.0,245.7C2189.7,243.7 2193.6,239.0 2196.4,235.7C2199.2,232.4 2203.1,227.8 2204.8,225.8" stroke-dasharray="26.04 31.62" stroke-dashoffset="0.00"/>
<path d="M2204.8,225.8C2205.5,224.9 2205.7,224.7 2206.4,223.9C2207.9,222.2 2210.7,218.7 2213.0,216.0C2215.5,213.1 2218.3,210.0 2221.0,207.0" stroke-dasharray="28.00 34.00" stroke-dashoffset="28.00"/></g>
<g stroke="#00f" stroke-width="8.4"><path d="M335.5,139.5C341.0,140.0 346.4,140.4 352.0,141.0C357.9,141.6 364.0,142.4 370.0,143.0C376.1,143.6 382.1,143.7 388.4,144.5C395.1,145.3 402.7,146.5 409.0,148.0C414.5,149.3 419.2,151.0 424.3,152.5" stroke-dasharray="32.21 41.68" stroke-dashoffset="0.00"/>
<path d="M424.3,152.5C429.4,154.0 434.3,155.0 439.6,157.0C445.8,159.3 452.9,162.3 459.0,166.0C465.1,169.7 471.1,174.5 476.0,179.0C480.2,182.9 483.2,187.0 486.8,191.0" stroke-dasharray="32.67 42.28" stroke-dashoffset="16.34"/>
<path d="M486.8,191.0C490.4,195.0 494.4,198.2 497.6,203.0C501.4,208.7 504.5,216.6 507.2,223.6C509.9,230.6 511.3,238.6 513.6,245.0C515.5,250.4 517.7,254.7 519.8,259.5" stroke-dasharray="33.59 43.47" stroke-dashoffset="16.80"/>
<path d="M519.8,259.5C521.9,264.3 523.7,268.7 526.0,274.0C528.8,280.6 531.9,289.0 535.2,296.0C538.3,302.6 541.4,309.5 545.0,315.0C548.2,319.8 551.9,323.3 555.3,327.5" stroke-dasharray="33.66 43.56" stroke-dashoffset="16.83"/>
<path d="M555.3,327.5C558.7,331.7 561.7,335.8 565.6,340.0C570.1,344.9 575.3,350.8 581.2,355.0C587.4,359.4 595.4,362.7 602.0,365.6C607.7,368.1 613.0,369.7 618.5,371.8" stroke-dasharray="34.39 44.51" stroke-dashoffset="17.20"/>
<path d="M618.5,371.8C624.0,373.9 630.1,377.0 635.0,378.0C638.7,378.8 641.8,378.9 645.0,378.5C648.2,378.1 650.8,377.3 654.4,375.6C659.8,373.0 667.8,367.0 673.6,363.0C678.6,359.5 682.7,356.3 687.3,353.0" stroke-dasharray="33.80 43.74" stroke-dashoffset="16.90"/>
<path d="M687.3,353.0C691.9,349.7 696.1,346.5 701.0,343.0C706.8,338.9 713.8,334.4 719.8,329.8C725.6,325.4 731.3,320.3 736.5,316.0C741.1,312.2 745.2,309.1 749.5,305.5" stroke-dasharray="34.14 44.18" stroke-dashoffset="17.07"/>
<path d="M749.5,305.5C753.9,301.9 758.4,298.7 762.5,294.5C767.0,289.8 771.1,283.9 775.4,278.4C779.9,272.7 784.2,265.8 789.0,261.0C793.2,256.8 797.7,254.0 802.0,250.5" stroke-dasharray="33.35 43.16" stroke-dashoffset="16.68"/>
<path d="M802.0,250.5C806.3,247.0 810.5,244.0 815.0,240.0C820.2,235.4 826.0,228.6 831.0,224.4C834.9,221.1 838.8,218.9 842.0,216.5C844.5,214.6 846.8,211.9 848.5,211.3C849.5,210.9 849.8,211.3 851.0,211.3" stroke-dasharray="35.40 45.81" stroke-dashoffset="17.70"/>
<path d="M851.0,211.3C853.7,211.3 860.2,211.4 864.8,211.4C869.4,211.5 875.9,211.6 878.6,211.6" stroke-dasharray="27.60 35.72" stroke-dashoffset="0.00"/>
<path d="M878.6,211.6C879.8,211.6 880.2,211.2 881.1,211.6C882.8,212.6 884.6,217.2 886.5,220.0C888.5,223.0 890.4,226.3 892.6,229.0C894.6,231.4 896.7,234.0 899.0,235.5C900.9,236.8 902.8,237.8 905.0,238.0C907.4,238.2 910.1,237.3 913.0,236.0C916.9,234.3 921.7,230.3 926.0,227.5" stroke-dasharray="35.15 45.49" stroke-dashoffset="35.15"/>
<path d="M926.0,227.5C930.3,224.7 935.0,222.9 939.0,219.0C943.8,214.3 946.9,206.2 951.6,200.4C956.3,194.6 961.4,188.2 967.0,184.0C972.0,180.3 977.7,178.7 983.0,176.0" stroke-dasharray="34.25 44.32" stroke-dashoffset="17.13"/>
<path d="M983.0,176.0C988.3,173.3 993.1,170.1 999.0,168.0C1005.5,165.6 1013.4,164.8 1020.6,163.0C1028.0,161.1 1036.1,158.4 1043.0,157.0C1048.9,155.8 1054.0,155.3 1059.5,154.5" stroke-dasharray="34.86 45.12" stroke-dashoffset="17.43"/>
<path d="M1059.5,154.5C1065.0,153.7 1070.2,153.0 1076.0,152.0C1082.6,150.9 1089.7,148.8 1097.0,148.0C1104.7,147.1 1113.7,147.3 1121.0,147.0C1127.0,146.8 1132.0,146.8 1137.5,146.5" stroke-dasharray="34.27 44.34" stroke-dashoffset="17.13"/>
<path d="M1137.5,146.5C1143.0,146.2 1148.2,145.8 1154.0,145.0C1160.6,144.1 1167.8,141.8 1175.0,141.0C1182.5,140.2 1190.9,140.6 1198.0,140.5C1204.1,140.4 1209.3,140.5 1215.0,140.5" stroke-dasharray="33.99 43.99" stroke-dashoffset="17.00"/>
<path d="M1215.0,140.5C1220.7,140.5 1226.0,140.6 1232.0,140.5C1238.8,140.3 1246.3,139.3 1253.6,139.5C1261.0,139.7 1269.4,141.1 1276.0,141.5C1281.2,141.8 1285.3,141.8 1290.0,142.0" stroke-dasharray="32.75 42.38" stroke-dashoffset="16.38"/>
<path d="M1290.0,142.0C1294.7,142.2 1298.6,142.4 1304.0,142.5C1311.5,142.7 1322.4,142.6 1331.0,143.0C1339.0,143.3 1347.0,144.3 1354.0,144.5C1360.0,144.7 1365.0,144.7 1370.5,144.5" stroke-dasharray="35.12 45.45" stroke-dashoffset="17.56"/>
<path d="M1370.5,144.5C1376.0,144.3 1381.1,144.0 1387.0,143.5C1393.8,142.9 1401.6,141.7 1409.0,141.0C1416.6,140.3 1425.0,139.7 1432.0,139.5C1438.0,139.3 1443.0,139.5 1448.5,139.5" stroke-dasharray="34.10 44.13" stroke-dashoffset="17.05"/>
<path d="M1448.5,139.5C1454.0,139.5 1459.2,139.3 1465.0,139.5C1471.6,139.7 1479.6,139.1 1486.2,140.6C1492.5,142.0 1498.5,145.0 1503.9,147.7C1508.8,150.2 1512.8,153.3 1517.2,156.1" stroke-dasharray="31.66 40.97" stroke-dashoffset="15.83"/>
<path d="M1517.2,156.1C1521.6,158.9 1527.3,161.3 1530.4,164.5C1532.9,167.1 1534.1,169.8 1535.5,173.0C1537.0,176.6 1537.6,181.2 1538.8,185.3C1540.1,189.5 1542.2,194.1 1543.0,198.0C1543.7,201.1 1542.8,205.6 1543.9,206.7C1544.5,207.3 1545.2,206.9 1546.4,207.0" stroke-dasharray="35.26 45.63" stroke-dashoffset="17.63"/>
<path d="M1546.4,207.0C1549.0,207.3 1554.9,207.9 1559.2,208.3C1563.5,208.7 1569.4,209.3 1572.0,209.6" stroke-dasharray="25.73 33.30" stroke-dashoffset="0.00"/>
<path d="M1572.0,209.6C1573.2,209.7 1573.7,209.3 1574.5,209.9C1575.7,210.7 1576.4,213.7 1577.5,216.0C1578.9,219.0 1580.3,222.8 1581.8,226.5C1583.4,230.5 1585.7,235.5 1587.0,239.0C1587.9,241.4 1588.2,244.8 1589.2,245.3C1589.9,245.5 1590.5,244.7 1591.5,244.2" stroke-dasharray="33.74 43.67" stroke-dashoffset="33.74"/>
<path d="M1591.5,244.2C1593.9,243.1 1599.2,240.6 1603.0,238.8C1606.8,237.0 1612.1,234.6 1614.5,233.5" stroke-dasharray="25.37 32.83" stroke-dashoffset="0.00"/>
<path d="M1614.5,233.5C1615.5,233.0 1616.2,233.2 1616.8,232.5C1617.8,231.0 1617.3,227.1 1617.7,224.0C1618.2,220.2 1619.1,215.6 1619.8,211.4C1620.5,207.2 1621.3,202.7 1622.0,199.0C1622.5,196.1 1622.6,192.8 1623.4,191.1C1623.9,190.2 1624.3,190.2 1625.1,189.3" stroke-dasharray="36.33 47.01" stroke-dashoffset="36.33"/>
<path d="M1625.1,189.3C1627.0,187.3 1631.3,182.5 1634.4,179.1C1637.5,175.7 1641.8,170.9 1643.7,168.9" stroke-dasharray="27.61 35.73" stroke-dashoffset="0.00"/>
<path d="M1643.7,168.9C1644.5,168.0 1644.6,167.5 1645.4,167.1C1646.3,166.6 1647.6,166.1 1649.0,166.5C1651.6,167.3 1655.3,173.6 1658.8,175.1C1661.7,176.4 1665.4,176.2 1668.0,176.0C1670.0,175.9 1672.0,174.4 1673.2,174.8C1674.0,175.0 1674.2,175.7 1675.0,176.5" stroke-dasharray="28.33 36.67" stroke-dashoffset="28.33"/>
<path d="M1675.0,176.5C1677.0,178.4 1682.0,182.4 1685.0,186.0C1688.2,189.8 1691.9,196.5 1693.5,199.0" stroke-dasharray="29.35 37.98" stroke-dashoffset="0.00"/>
<path d="M1693.5,199.0C1694.2,200.0 1694.3,200.0 1694.9,201.1C1696.4,203.9 1699.5,213.0 1702.4,217.3C1704.7,220.7 1707.1,223.4 1710.0,225.5C1712.9,227.6 1717.7,229.0 1719.9,229.8C1720.9,230.2 1721.2,230.2 1722.3,230.5" stroke-dasharray="34.75 44.97" stroke-dashoffset="34.75"/>
<path d="M1722.3,230.5C1724.8,231.2 1730.4,232.8 1734.5,233.9C1738.5,235.0 1744.1,236.5 1746.6,237.2" stroke-dasharray="25.21 32.62" stroke-dashoffset="0.00"/>
<path d="M1746.6,237.2C1747.7,237.5 1748.0,237.8 1749.0,237.9C1750.9,238.0 1754.2,237.4 1757.0,237.0C1760.0,236.5 1763.4,234.7 1766.5,235.0C1769.7,235.3 1773.3,237.0 1776.0,239.0C1778.8,241.1 1781.8,245.3 1782.9,247.3C1783.5,248.2 1783.4,248.5 1783.8,249.6" stroke-dasharray="34.06 44.08" stroke-dashoffset="34.06"/>
<path d="M1783.8,249.6C1784.9,252.5 1787.7,259.9 1789.6,265.0C1791.6,270.2 1793.5,275.4 1795.5,280.6" stroke-dasharray="66.27 85.76" stroke-dashoffset="0.00"/>
<path d="M1795.5,280.6C1797.5,285.9 1800.4,293.6 1801.5,296.5" stroke-dasharray="33.99 43.99" stroke-dashoffset="16.99"/>
<path d="M1801.5,296.5C1801.9,297.6 1801.9,297.9 1802.4,298.8C1803.3,300.7 1805.0,304.4 1807.0,306.5C1808.9,308.6 1811.4,311.1 1813.9,311.5C1816.4,311.9 1819.3,310.4 1822.0,309.0C1825.2,307.3 1830.3,303.5 1831.7,301.5C1832.3,300.6 1832.1,300.2 1832.5,299.1" stroke-dasharray="33.71 43.62" stroke-dashoffset="33.71"/>
<path d="M1832.5,299.1C1833.5,296.2 1836.0,288.8 1837.8,283.6C1839.6,278.4 1842.1,271.0 1843.1,268.1" stroke-dasharray="32.76 42.40" stroke-dashoffset="0.00"/>
<path d="M1843.1,268.1C1843.5,267.0 1843.5,266.8 1843.9,265.7C1844.7,263.6 1846.2,258.7 1847.5,256.0C1848.6,253.8 1849.9,250.3 1851.0,250.4C1852.2,250.5 1853.5,255.2 1854.5,258.0C1855.6,261.2 1856.6,266.2 1857.3,268.4C1857.6,269.5 1857.7,269.7 1858.1,270.8" stroke-dasharray="32.07 41.50" stroke-dashoffset="32.07"/>
<path d="M1858.1,270.8C1859.0,273.3 1861.0,279.1 1862.5,283.2C1864.0,287.3 1866.1,293.1 1867.0,295.6" stroke-dasharray="26.35 34.10" stroke-dashoffset="0.00"/>
<path d="M1867.0,295.6C1867.4,296.7 1867.2,297.3 1867.9,298.0C1868.9,298.9 1871.7,299.3 1874.0,299.5C1876.7,299.8 1880.1,298.3 1882.9,299.1C1885.8,300.0 1888.6,302.7 1891.0,305.0C1893.5,307.3 1896.1,311.3 1897.5,313.1C1898.2,314.0 1898.3,314.2 1899.0,315.1" stroke-dasharray="31.63 40.94" stroke-dashoffset="31.63"/>
<path d="M1899.0,315.1C1900.6,317.3 1904.3,322.2 1907.0,325.8C1909.7,329.3 1913.4,334.3 1915.0,336.4" stroke-dasharray="26.64 34.48" stroke-dashoffset="0.00"/>
<path d="M1915.0,336.4C1915.7,337.3 1915.8,337.9 1916.5,338.4C1917.5,339.1 1919.4,340.0 1921.0,339.5C1923.9,338.7 1928.4,332.9 1930.9,329.3C1933.1,326.1 1934.2,322.4 1935.5,319.0C1936.7,315.7 1937.9,311.3 1938.5,309.1C1938.9,308.0 1938.9,307.8 1939.3,306.7" stroke-dasharray="35.44 45.86" stroke-dashoffset="35.44"/>
<path d="M1939.3,306.7C1940.2,303.9 1942.4,297.0 1944.0,292.1C1945.5,287.2 1947.7,280.3 1948.6,277.5" stroke-dasharray="30.65 39.66" stroke-dashoffset="0.00"/>
<path d="M1948.6,277.5C1949.0,276.4 1949.0,276.2 1949.4,275.1C1950.0,273.1 1951.3,269.1 1952.5,266.0C1953.7,262.8 1955.0,259.7 1956.4,256.4C1957.8,253.0 1959.5,249.3 1961.0,246.0C1962.4,242.8 1964.5,239.0 1965.2,236.9C1965.6,235.8 1965.5,235.6 1965.7,234.4" stroke-dasharray="35.90 46.46" stroke-dashoffset="35.90"/>
<path d="M1965.7,234.4C1966.3,231.5 1967.7,224.1 1968.7,219.0C1969.7,213.8 1971.0,206.4 1971.6,203.5" stroke-dasharray="31.46 40.71" stroke-dashoffset="0.00"/>
<path d="M1971.6,203.5C1971.8,202.3 1971.8,202.1 1972.1,201.0C1972.5,198.8 1973.4,193.7 1974.5,190.5C1975.5,187.6 1977.2,182.6 1978.1,182.7C1979.1,182.8 1979.6,189.3 1979.8,193.0C1980.0,197.2 1977.9,205.8 1978.9,206.4C1979.4,206.6 1980.1,205.6 1981.0,205.0" stroke-dasharray="37.67 48.75" stroke-dashoffset="37.67"/>
<path d="M1981.0,205.0C1982.9,203.7 1986.9,200.8 1990.0,199.0C1993.1,197.2 1997.4,195.2 1999.5,194.2" stroke-dasharray="21.47 27.78" stroke-dashoffset="0.00"/>
<path d="M1999.5,194.2C2000.5,193.7 2001.2,193.9 2001.7,193.1C2002.7,191.6 2002.1,187.6 2002.5,184.5C2003.0,180.9 2003.9,176.7 2004.7,172.8C2005.5,168.9 2006.7,164.3 2007.5,161.0C2008.1,158.7 2008.4,156.5 2009.0,155.0C2009.5,154.1 2010.0,153.8 2010.5,153.0" stroke-dasharray="33.95 43.94" stroke-dashoffset="33.95"/>
<path d="M2010.5,153.0C2011.2,152.0 2011.8,149.7 2013.0,149.5C2014.7,149.2 2018.0,152.8 2020.5,154.5C2023.1,156.3 2026.7,158.8 2028.5,160.0" stroke-dasharray="23.28 30.13" stroke-dashoffset="0.00"/>
<path d="M2028.5,160.0C2029.4,160.6 2030.1,160.6 2030.6,161.4C2031.4,162.9 2031.1,166.3 2031.5,169.0C2032.0,172.3 2032.7,179.8 2033.5,179.8C2034.2,179.8 2035.4,174.1 2036.0,171.0C2036.7,167.8 2036.3,162.5 2037.4,160.9C2038.0,160.1 2038.6,160.3 2039.7,159.8" stroke-dasharray="33.53 43.39" stroke-dashoffset="33.53"/>
<path d="M2039.7,159.8C2042.1,158.6 2047.8,155.9 2051.9,154.0C2056.0,152.1 2061.7,149.4 2064.1,148.3" stroke-dasharray="26.97 34.91" stroke-dashoffset="0.00"/>
<path d="M2064.1,148.3C2065.2,147.8 2065.4,147.6 2066.4,147.2C2068.0,146.6 2070.7,145.4 2073.0,145.0C2075.5,144.6 2078.6,144.2 2080.9,145.2C2083.5,146.3 2085.8,149.5 2087.5,152.0C2089.1,154.4 2089.6,158.6 2090.9,159.9C2091.7,160.5 2092.2,160.3 2093.3,160.7" stroke-dasharray="29.59 38.30" stroke-dashoffset="29.59"/>
<path d="M2093.3,160.7C2096.0,161.6 2102.4,163.8 2107.0,165.5C2111.7,167.2 2118.3,169.9 2121.0,171.0" stroke-dasharray="29.56 38.25" stroke-dashoffset="0.00"/>
<path d="M2121.0,171.0C2122.1,171.4 2122.3,171.8 2123.3,171.9C2125.0,172.0 2127.6,171.0 2130.0,170.5C2132.8,169.9 2136.2,168.0 2139.0,168.5C2141.7,169.0 2144.3,171.6 2146.5,173.5C2148.5,175.2 2150.5,177.8 2151.6,179.2C2152.3,180.1 2152.4,180.4 2153.0,181.3" stroke-dasharray="29.34 37.97" stroke-dashoffset="29.34"/>
<path d="M2153.0,181.3C2154.4,183.3 2157.4,187.7 2159.5,191.0C2161.6,194.4 2163.4,199.0 2165.4,201.4" stroke-dasharray="23.65 30.61" stroke-dashoffset="0.00"/>
<path d="M2165.4,201.4C2166.7,203.0 2168.1,204.1 2169.5,204.8C2170.8,205.4 2172.2,206.1 2173.5,205.8C2175.1,205.4 2176.5,203.3 2178.0,202.0C2179.7,200.6 2181.2,199.1 2183.1,197.4C2185.7,195.1 2189.1,192.2 2192.0,189.5C2194.9,186.8 2197.2,183.4 2200.4,181.1" stroke-dasharray="35.69 46.19" stroke-dashoffset="35.69"/>
<path d="M2200.4,181.1C2203.6,178.8 2207.5,177.3 2211.0,175.5C2214.4,173.8 2217.7,172.2 2221.0,170.5" stroke-dasharray="34.00 44.00" stroke-dashoffset="0.00"/></g>
<path d="M385.5,144.1L391.3,144.9M456.5,164.5L461.5,167.5M506.2,220.9L508.2,226.3M534.0,293.4L536.4,298.6M578.8,353.3L583.6,356.7M651.8,376.8L657.0,374.4M717.5,331.6L722.1,328.0M773.6,280.7L777.2,276.1M828.8,226.3L833.2,222.5M890.8,226.8L894.4,231.2M949.8,202.7L953.4,198.1M1017.8,163.7L1023.4,162.3M1094.1,148.3L1099.9,147.7M1172.1,141.3L1177.9,140.7M1250.7,139.4L1256.5,139.6M1328.1,142.9L1333.9,143.1M1406.1,141.3L1411.9,140.7M1483.4,140.0L1489.0,141.2M1538.0,182.5L1539.6,188.1M1580.7,223.8L1582.9,229.2M1619.3,214.3L1620.3,208.5M1656.1,173.9L1661.5,176.3M1700.8,214.9L1704.0,219.7M1763.6,234.7L1769.4,235.3M1811.0,311.0L1816.8,312.0M1848.1,250.2L1853.9,250.6M1880.1,298.3L1885.7,299.9M1929.3,331.7L1932.5,326.9M1955.3,259.1L1957.5,253.7M1975.2,182.3L1981.0,183.1M2004.1,175.6L2005.3,170.0M2030.6,179.7L2036.4,179.9M2078.2,144.0L2083.6,146.4M2136.1,168.0L2141.9,169.0M2180.9,199.3L2185.3,195.5" stroke="#00f" stroke-width="8.4"/>
<path d="M335.5,139.6L346.9,141.0M363.4,144.7L374.6,147.3M387.5,150.2L398.5,153.8M411.7,159.7L422.3,164.3M434.0,168.7L444.0,174.5M455.7,183.1L464.3,190.9M475.5,203.4L482.5,212.6M492.3,227.9L497.7,238.1M504.5,254.6L508.3,265.4M512.1,281.5L515.1,292.5M520.0,308.9L523.2,319.9M527.8,336.5L531.4,347.5M536.7,362.7L541.3,373.3M548.8,388.5L554.4,398.5M563.1,412.9L570.1,421.9M582.0,434.3L590.8,441.7M604.8,451.6L615.2,456.4M632.3,462.2L643.7,461.8M658.0,455.8L668.0,450.2M680.3,439.4L688.9,431.8M699.8,420.7L708.2,412.7M720.2,401.9L728.4,393.7M740.4,381.2L747.6,372.2M758.2,356.8L764.6,347.2M773.9,332.9L780.1,323.1M788.6,308.9L794.6,299.1M802.4,285.8L808.8,276.2M818.8,262.5L826.0,253.5M835.4,240.9L844.6,233.9M859.3,224.6L870.7,226.2M880.2,239.6L889.0,247.2M902.3,261.9L913.7,262.9M924.3,254.9L932.9,247.1M941.9,231.9L948.1,222.1M955.8,206.5L963.0,197.5M976.2,185.2L985.8,178.8M1002.7,171.2L1013.3,166.8M1028.5,161.7L1039.5,158.3M1056.5,153.6L1067.5,150.4M1083.3,145.0L1094.7,143.0M1111.3,142.2L1122.7,141.8M1140.3,142.5L1151.7,142.5M1168.3,141.7L1179.7,141.5M1196.3,141.9L1207.7,142.1M1221.3,142.1L1232.7,142.7M1246.3,144.3L1257.7,144.5M1275.3,142.8L1286.7,142.4M1303.7,142.1L1315.1,141.9M1331.7,142.1L1343.1,141.9M1359.3,141.2L1370.7,140.8M1387.3,139.8L1398.7,139.4M1415.2,139.0L1426.8,139.0M1443.3,139.1L1454.7,140.1M1475.4,143.5L1486.4,146.5M1498.9,151.1L1508.9,156.7M1521.3,166.0L1528.9,174.6M1537.2,189.4L1542.2,199.8M1546.4,215.8L1553.4,224.8M1566.7,223.6L1576.5,229.4M1580.4,247.9L1585.8,258.1M1590.9,274.5L1602.3,274.5M1608.8,257.4L1613.2,246.8M1615.6,229.9L1617.8,218.5M1620.2,202.0L1622.6,190.8M1626.1,174.5L1631.3,164.3M1642.2,163.3L1650.6,171.1M1664.2,182.4L1672.0,190.8M1682.7,204.1L1688.1,214.3M1691.5,230.2L1696.5,240.6M1704.2,253.7L1713.0,261.1M1729.1,265.2L1738.9,271.2M1745.5,279.4L1755.7,284.6M1769.1,284.3L1777.9,291.7M1783.2,309.4L1787.0,320.2M1791.3,338.3L1793.9,349.5M1797.3,368.0L1801.1,378.8M1806.0,391.7L1813.8,400.3M1827.8,389.7L1832.8,379.3M1838.0,363.0L1841.2,352.0M1844.4,335.6L1847.2,324.4M1853.1,310.8L1859.3,320.6M1863.2,333.8L1868.0,344.2M1876.7,335.0L1885.7,342.0M1892.3,346.3L1897.7,356.5M1898.1,373.9L1899.9,385.3M1902.7,401.0L1905.5,412.2M1909.4,427.4L1915.6,437.2M1927.7,427.4L1932.3,416.8M1935.3,400.4L1937.7,389.2M1940.6,372.5L1943.2,361.3M1947.6,345.5L1950.4,334.3M1954.1,318.0L1957.1,306.8M1962.1,290.8L1965.1,279.6M1969.5,262.9L1971.3,251.5M1972.0,235.2L1973.6,223.8M1973.1,200.0L1984.5,200.0M1983.8,223.2L1985.4,234.6M1986.1,250.8L1987.5,262.2M1989.8,278.6L1992.4,289.8M1997.4,272.6L1999.6,261.4M2001.0,244.3L2003.0,232.9M2007.4,216.9L2010.2,205.7M2014.3,189.1L2017.5,178.1M2023.8,173.1L2026.6,184.3M2027.9,200.9L2029.3,212.3M2030.6,229.5L2033.4,240.7M2037.2,225.3L2038.6,213.9M2039.9,197.4L2041.1,186.0M2042.0,169.0L2044.8,157.8M2048.2,145.3L2057.0,137.9M2068.7,148.9L2075.3,158.3M2083.4,149.8L2088.2,160.2M2088.6,176.8L2093.6,187.2M2102.7,193.9L2108.7,203.7M2114.5,206.5L2118.1,195.5M2119.8,178.5L2124.2,167.9M2135.4,164.2L2143.2,172.8M2149.5,183.7L2153.9,194.3M2155.5,211.2L2160.5,221.6M2171.3,227.7L2180.7,221.1M2184.5,211.6L2191.5,202.4M2201.3,189.3L2210.3,182.1" stroke="#f0f" stroke-width="8.2"/>
<path d="M955,736.5H1146" stroke="#000" stroke-width="7"/>
<path d="M955,841H1146" stroke="#f00" stroke-width="8" stroke-dasharray="28 34"/>
<path d="M955,946H1145" stroke="#00f" stroke-width="8" stroke-dasharray="34 19 5.5 19.5"/>
<path d="M955,1050.5H1146" stroke="#f0f" stroke-width="7" stroke-dasharray="11.5 16.8"/>
</g>
<g fill="#000" shape-rendering="crispEdges">
<rect x="330" y="38" width="5" height="1089"/>
<rect x="2219" y="38" width="5" height="1089"/>
<rect x="330" y="38" width="1894" height="6"/>
<rect x="330" y="1122" width="1894" height="6"/>
<rect x="307" y="1122.0" width="25" height="6"/>
<rect x="319" y="1023.5" width="13" height="6"/>
<rect x="307" y="925.0" width="25" height="6"/>
<rect x="319" y="826.5" width="13" height="6"/>
<rect x="307" y="728.0" width="25" height="6"/>
<rect x="319" y="629.5" width="13" height="6"/>
<rect x="307" y="531.0" width="25" height="6"/>
<rect x="319" y="432.5" width="13" height="6"/>
<rect x="307" y="334.0" width="25" height="6"/>
<rect x="319" y="235.5" width="13" height="6"/>
<rect x="307" y="137.0" width="25" height="6"/>
<rect x="319" y="38.0" width="13" height="6"/>
<rect x="330.0" y="1124" width="5" height="26.5"/>
<rect x="600.0" y="1124" width="5" height="13.5"/>
<rect x="870.0" y="1124" width="5" height="26.5"/>
<rect x="1140.0" y="1124" width="5" height="13.5"/>
<rect x="1410.0" y="1124" width="5" height="26.5"/>
<rect x="1680.0" y="1124" width="5" height="13.5"/>
<rect x="1950.0" y="1124" width="5" height="26.5"/>
<rect x="2220.0" y="1124" width="5" height="13.5"/>
<rect x="646" y="566" width="2" height="62.5"/>
<rect x="912" y="325" width="2" height="62.5"/>
<rect x="1553" y="262" width="2" height="62"/>
<rect x="1598" y="345" width="2" height="54"/>
<rect x="1809" y="493" width="2" height="51.5"/>
<rect x="1913" y="556" width="2" height="56.5"/>
<rect x="1993" y="364" width="2" height="60.5"/>
<rect x="2035" y="280" width="2" height="45"/>
</g>
<g font-family="'Liberation Sans', Arial, sans-serif" fill="#000" filter="url(#bw)">
<text transform="translate(289,1150.3) scale(1,1.04)" font-size="85.5" text-anchor="end">0.0</text>
<text transform="translate(289,953.3) scale(1,1.04)" font-size="85.5" text-anchor="end">0.2</text>
<text transform="translate(289,756.3) scale(1,1.04)" font-size="85.5" text-anchor="end">0.4</text>
<text transform="translate(289,559.3) scale(1,1.04)" font-size="85.5" text-anchor="end">0.6</text>
<text transform="translate(289,362.3) scale(1,1.04)" font-size="85.5" text-anchor="end">0.8</text>
<text transform="translate(289,165.3) scale(1,1.04)" font-size="85.5" text-anchor="end">1.0</text>
<text transform="translate(332.5,1240) scale(1,1.04)" font-size="85.5" text-anchor="middle">4000</text>
<text transform="translate(872.5,1240) scale(1,1.04)" font-size="85.5" text-anchor="middle">3000</text>
<text transform="translate(1412.5,1240) scale(1,1.04)" font-size="85.5" text-anchor="middle">2000</text>
<text transform="translate(1952.5,1240) scale(1,1.04)" font-size="85.5" text-anchor="middle">1000</text>
<text transform="translate(113,581.7) rotate(-90)" font-size="111" text-anchor="middle">Transmittance (%)</text>
<text x="789" y="1407" font-size="111">Wavenumber (cm<tspan x="1660" y="1362" font-size="76">-1</tspan><tspan x="1730" y="1407">)</tspan></text>
<text transform="translate(677.5,744) rotate(-90) scale(1,1.04)" font-size="80" text-anchor="middle">3422</text>
<text transform="translate(945.3,494) rotate(-90) scale(1,1.04)" font-size="80" text-anchor="middle">2925</text>
<text transform="translate(1560.5,428.6) rotate(-90) scale(1,1.04)" font-size="80" text-anchor="middle">1731</text>
<text transform="translate(1651.3,525.6) rotate(-90) scale(1,1.04)" font-size="80" text-anchor="middle">1653</text>
<text transform="translate(1828,661.3) rotate(-90) scale(1,1.04)" font-size="80" text-anchor="middle">1260</text>
<text transform="translate(1951.8,752.8) rotate(-90) scale(1,1.04)" font-size="80" text-anchor="middle">1072</text>
<text transform="translate(2034.8,554.1) rotate(-90) scale(1,1.04)" font-size="80" text-anchor="middle">926</text>
<text transform="translate(2100.8,404.5) rotate(-90) scale(1,1.04)" font-size="80" text-anchor="middle">847</text>
<text x="1169" y="766.5" font-size="86" xml:space="preserve">670 kDa</text>
<text x="1169" y="871" font-size="86" xml:space="preserve">43  kDa</text>
<text x="1169" y="975" font-size="86" xml:space="preserve">17  kDa</text>
<text x="1169" y="1079.5" font-size="86" xml:space="preserve">4    kDa</text>
</g>
</svg>
</body></html>
